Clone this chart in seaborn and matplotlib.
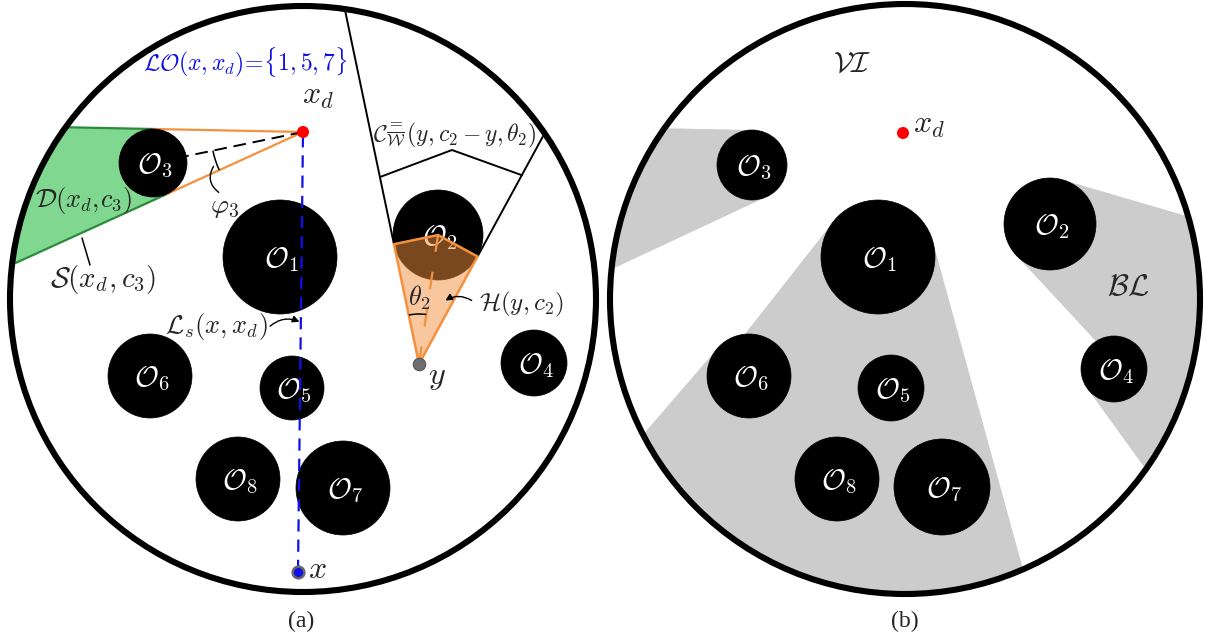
import numpy as np
import pandas as pd
import matplotlib
matplotlib.use("Agg")
import matplotlib.pyplot as plt
from matplotlib.patches import Circle, Polygon, Arc, FancyArrowPatch
import seaborn as sns

sns.set_theme(style="white")
plt.rcParams["mathtext.fontset"] = "cm"
plt.rcParams["font.family"] = ["Liberation Serif", "DejaVu Serif"]

# ---- scene description (pixel units, y grows downward) ----
# workspace discs: centre x, centre y, radius
ws_a = (303, 299, 293)
ws_b = (905, 299, 295)

obs_ids = [1, 2, 3, 4, 5, 6, 7, 8]
# panel (a) obstacles
obs_a_x = [280, 438, 153, 534, 292, 150, 343, 238]
obs_a_y = [257, 235, 163, 363, 388, 376, 488, 479]
obs_a_r = [57, 45, 34, 33, 32, 42, 47, 42]
# panel (b) obstacles
obs_b_x = [878, 1050, 752, 1114, 891, 749, 942, 837]
obs_b_y = [257, 224, 165, 369, 388, 376, 487, 479]
obs_b_r = [57, 46, 35, 33, 33, 42, 48, 42]

# key points
xd_a = (303, 132)
x_a = (298, 572)
y_a = (419, 364)
xd_b = (903, 133)

GREEN_FILL = "#80d78f"
GREEN_EDGE = "#2d8a3c"
ORANGE = "#f3913f"
GRAY = "#cccccc"
BLUE = "#1010e8"


def tangents(p, c, r):
    """Tangent points, unit directions and angles of the two rays from p touching circle (c, r)."""
    p = np.asarray(p, float)
    c = np.asarray(c, float)
    v = c - p
    d = np.hypot(*v)
    base = np.arctan2(v[1], v[0])
    half = np.arcsin(r / d)
    L = np.sqrt(d * d - r * r)
    out = []
    for s in (-1, 1):
        a = base + s * half
        u = np.array([np.cos(a), np.sin(a)])
        out.append((p + L * u, u, a))
    return out


def exit_point(p, u, ws):
    """Where the ray p + t u leaves the workspace disc."""
    C = np.array(ws[:2], float)
    w = np.asarray(p, float) - C
    b = u @ w
    cc = w @ w - ws[2] ** 2
    t = -b + np.sqrt(b * b - cc)
    return np.asarray(p, float) + t * u


def shadow(ax, src, c, r, ws, face, edge=None, lw=0.0, z=1):
    (t1, u1, a1), (t2, u2, a2) = tangents(src, c, r)
    poly = Polygon([t1, t1 + 2000 * u1, t2 + 2000 * u2, t2], closed=True,
                   facecolor=face, edgecolor=edge if edge else face,
                   linewidth=lw, zorder=z)
    ax.add_patch(poly)
    clip = Circle(ws[:2], ws[2], transform=ax.transData)
    poly.set_clip_path(clip)
    return (t1, u1, a1), (t2, u2, a2)


fig = plt.figure(figsize=(12.05, 6.38), dpi=100)
ax = fig.add_axes([0, 0, 1, 1])
ax.set_xlim(0, 1205)
ax.set_ylim(638, 0)
ax.set_axis_off()

obs_a = pd.DataFrame({"id": obs_ids, "x": obs_a_x, "y": obs_a_y, "r": obs_a_r}).set_index("id")
obs_b = pd.DataFrame({"id": obs_ids, "x": obs_b_x, "y": obs_b_y, "r": obs_b_r}).set_index("id")

# ================= panel (a) =================
c3 = (obs_a.loc[3, "x"], obs_a.loc[3, "y"])
r3 = obs_a.loc[3, "r"]
tan3 = shadow(ax, xd_a, c3, r3, ws_a, GREEN_FILL, GREEN_EDGE, lw=1.6)
# orange tangent segments from x_d
for t, _, _ in tan3:
    ax.plot([xd_a[0], t[0]], [xd_a[1], t[1]], color=ORANGE, lw=1.6, zorder=2)
# dashed line x_d -> c3
ax.plot([xd_a[0], c3[0]], [xd_a[1], c3[1]], color="black", lw=1.4,
        dashes=(6.5, 3.5), zorder=2)

# angle phi_3 between the dashed line and the lower tangent
low_t = max(tan3, key=lambda k: k[0][1])
ang_lo = np.degrees(np.arctan2(low_t[0][1] - xd_a[1], low_t[0][0] - xd_a[0]))
ang_c = np.degrees(np.arctan2(c3[1] - xd_a[1], c3[0] - xd_a[0]))
ax.add_patch(Arc(xd_a, 184, 184, theta1=min(ang_lo, ang_c), theta2=max(ang_lo, ang_c),
                 color="black", lw=1.1, zorder=3))
ax.add_patch(FancyArrowPatch((215, 164), (221, 194), arrowstyle="-",
                             connectionstyle="arc3,rad=0.5", color="black", lw=1.0, zorder=3))

# cone from y towards O2
c2 = (obs_a.loc[2, "x"], obs_a.loc[2, "y"])
r2 = obs_a.loc[2, "r"]
tl, tr = sorted(tangents(y_a, c2, r2), key=lambda k: k[0][0])
for t, u, _ in (tl, tr):
    e = exit_point(t, u, ws_a)
    ax.plot([t[0], e[0]], [t[1], e[1]], color="black", lw=1.4, zorder=2)
# bracket spanning the cone
p_left = np.asarray(y_a) + 191 * tl[1]
p_right = np.asarray(y_a) + 215 * tr[1]
apex = (452, 150)
ax.plot([p_left[0], apex[0], p_right[0]], [p_left[1], apex[1], p_right[1]],
        color="black", lw=1.4, zorder=2)

# bisector y -> c2 (orange dashed)
ax.plot([y_a[0], c2[0]], [y_a[1], c2[1]], color=ORANGE, lw=1.6,
        dashes=(8, 9), zorder=4)

# ================= panel (b) shadows =================
for i in obs_ids:
    shadow(ax, xd_b, (obs_b.loc[i, "x"], obs_b.loc[i, "y"]), obs_b.loc[i, "r"],
           ws_b, GRAY, z=1)

# ================= obstacles =================
for df in (obs_a, obs_b):
    for i, row in df.iterrows():
        ax.add_patch(Circle((row.x, row.y), row.r, facecolor="black",
                            edgecolor="black", lw=0.5, zorder=3))
        ax.text(row.x + 2, row.y + 2, rf"$\mathcal{{O}}_{{{i}}}$", color="white",
                fontsize=21, ha="center", va="center", zorder=3.5)

# hull H(y, c2): kite over O2
kite = [y_a, tl[0], c2, tr[0]]
ax.add_patch(Polygon(kite, closed=True, facecolor=ORANGE, alpha=0.5,
                     edgecolor="none", zorder=4))
ax.add_patch(Polygon(kite, closed=True, facecolor="none",
                     edgecolor=ORANGE, lw=1.8, zorder=4))
# theta_2 arc
bis = np.degrees(np.arctan2(c2[1] - y_a[1], c2[0] - y_a[0]))
ax.add_patch(Arc(y_a, 100, 100, theta1=np.degrees(tl[2]), theta2=bis,
                 color="black", lw=1.1, zorder=5))

# line-of-sight segment x -> x_d
ax.plot([x_a[0], xd_a[0]], [x_a[1], xd_a[1]], color=BLUE, lw=1.6,
        dashes=(5.5, 3.6), zorder=5)

# workspace boundaries
for ws in (ws_a, ws_b):
    ax.add_patch(Circle(ws[:2], ws[2], facecolor="none", edgecolor="black",
                        lw=4.4, zorder=6))

# ================= points =================
sns.scatterplot(x=[xd_a[0], xd_b[0]], y=[xd_a[1], xd_b[1]], color="#ff0000",
                s=75, edgecolor="none", ax=ax, zorder=8, legend=False)
sns.scatterplot(x=[x_a[0]], y=[x_a[1]], color=BLUE, s=70, edgecolor="#666666",
                linewidth=1.8, ax=ax, zorder=8, legend=False)
sns.scatterplot(x=[y_a[0]], y=[y_a[1]], color="#6e6e6e", s=80, edgecolor="#555555",
                linewidth=0.8, ax=ax, zorder=8, legend=False)
ax.set_axis_off()

# ================= labels =================
tk = dict(zorder=7, ha="center", va="center")
ax.text(245, 62, r"$\mathcal{LO}(x,x_d)\!=\!\{1,5,7\}$", color=BLUE, fontsize=17, **tk)
ax.text(318, 97, r"$x_d$", fontsize=23, **tk)
ax.text(455, 135, r"$\mathcal{C}^{=}_{\overline{\mathcal{W}}}(y,c_2-y,\theta_2)$",
        fontsize=17, **tk)
ax.text(83, 200, r"$\mathcal{D}(x_d,\!c_3)$", fontsize=19, **tk)
ax.text(103, 280, r"$\mathcal{S}(x_d,c_3)$", fontsize=21, **tk)
ax.plot([82, 90], [238, 265], color="black", lw=1.1, zorder=3)
ax.text(225, 207, r"$\varphi_3$", fontsize=20, **tk)
ax.text(419, 298, r"$\theta_2$", fontsize=19, **tk)
ax.text(521, 304, r"$\mathcal{H}(y,c_2)$", fontsize=18, **tk)
ax.add_patch(FancyArrowPatch((474, 302), (443, 302), arrowstyle="-|>,head_length=4,head_width=2",
                             connectionstyle="arc3,rad=0.35", color="black", lw=1.0, zorder=7))
ax.text(216, 327, r"$\mathcal{L}_s(x,x_d)$", fontsize=19, **tk)
ax.add_patch(FancyArrowPatch((268, 328), (302, 323), arrowstyle="-|>,head_length=4,head_width=2",
                             connectionstyle="arc3,rad=-0.35", color="black", lw=1.0, zorder=7))
ax.text(437, 377, r"$y$", fontsize=23, **tk)
ax.text(317, 570, r"$x$", fontsize=23, **tk)

ax.text(852, 65, r"$\mathcal{VI}$", fontsize=21, **tk)
ax.text(929, 126, r"$x_d$", fontsize=23, **tk)
ax.text(1128, 287, r"$\mathcal{BL}$", fontsize=22, **tk)

ax.text(301, 621, "(a)", fontsize=17, **tk)
ax.text(905, 621, "(b)", fontsize=17, **tk)

fig.savefig("out.png", dpi=100)
